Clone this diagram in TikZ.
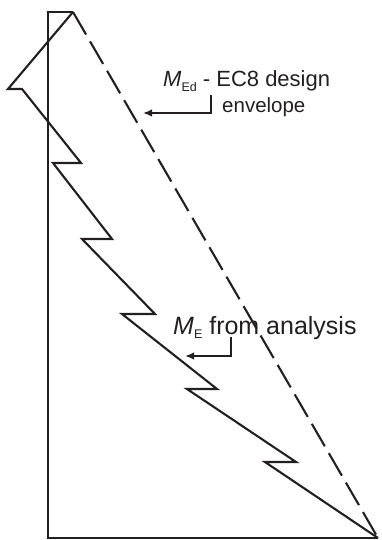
\documentclass[tikz,border=0pt]{standalone}
\usepackage{fontspec}
\setmainfont{Liberation Sans}
\usetikzlibrary{arrows.meta}
\definecolor{inkc}{HTML}{231F20}
\begin{document}
\begin{tikzpicture}[x=1pt,y=-1pt,
  ink/.style={draw=inkc, line width=2.1pt, line join=miter, miter limit=20},
  envl/.style={draw=inkc, line width=2.1pt, dash pattern=on 26pt off 8pt},
  pointer/.style={draw=inkc, line width=1.6pt, -{Latex[length=9pt,width=7.5pt]}},
  lab/.style={inner sep=0pt, anchor=base west, text=inkc}]
\useasboundingbox (0,0) rectangle (381,540);
% frame
\coordinate (top) at (73,12);
\coordinate (tl) at (48,12);
\coordinate (bl) at (48,538);
\coordinate (br) at (378,538);
\draw[ink] (top) -- (tl) -- (bl) -- (br);
% design envelope (dashed)
\draw[envl] (top) -- (br);
% analysis moment (zigzag)
\draw[ink] (top) -- (8,89) -- (22,89) -- (81,163) -- (53,163) -- (112,239) -- (82,239)
  -- (155,314) -- (122,314) -- (217,389) -- (187,389) -- (296,462) -- (265,462) -- (br);
% label 1
\node[lab, font=\fontsize{22}{24}\selectfont] (l1a) at (163,87)
  {\textit{M}{\fontsize{12.5}{13}\selectfont\raisebox{-5pt}{Ed}} - EC8 design};
\node[lab, font=\fontsize{20.5}{24}\selectfont] (l1b) at (222,113) {envelope};
\coordinate (p1) at (211,95);
\coordinate (t1) at (143,113);
\draw[pointer] (p1) |- (t1);
% label 2
\node[lab, font=\fontsize{25}{28}\selectfont] (l2) at (173,334)
  {\textit{M}{\fontsize{12.5}{13}\selectfont\raisebox{-4pt}{E}} from analysis};
\coordinate (p2) at (231,337);
\coordinate (t2) at (185,356);
\draw[pointer] (p2) |- (t2);
\end{tikzpicture}
\end{document}
